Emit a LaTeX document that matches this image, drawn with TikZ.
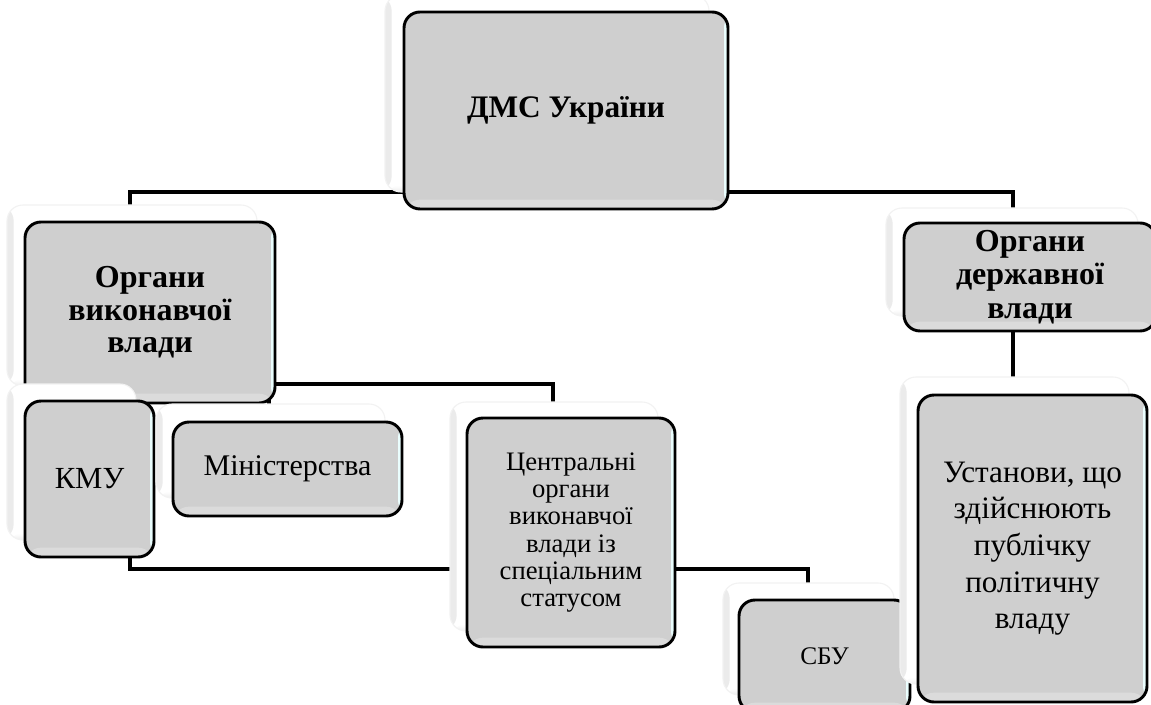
\documentclass[tikz,border=0pt]{standalone}
\usepackage{fontspec}
\setmainfont{Liberation Serif}
\usetikzlibrary{backgrounds}
\definecolor{boxgray}{HTML}{CFCFCF}
\tikzset{
  conn/.style={draw=black, line width=2.8pt},
  mainbox/.style={draw=black, line width=2.2pt, fill=boxgray, rounded corners=12pt,
    inner sep=0pt, align=center,
    path picture={
      \shade[left color=boxgray, right color=white!92!cyan]
        ([xshift=-3pt]path picture bounding box.north east) rectangle (path picture bounding box.south east);
      \fill[white, opacity=0.25] (path picture bounding box.south west) rectangle ([yshift=7pt]path picture bounding box.south east);
    }},
  ghostbox/.style={draw=black!5, line width=0.8pt, fill=white, rounded corners=12pt, inner sep=0pt,
    path picture={
      \shade[left color=black!8, right color=white]
        (path picture bounding box.south west) rectangle ([xshift=5pt]path picture bounding box.north west);
      \shade[bottom color=black!7, top color=white]
        (path picture bounding box.south west) rectangle ([yshift=5pt]path picture bounding box.south east);
    }}
}
\newcommand\diagbox[9]{%
  \node[ghostbox, minimum width=#4*0.75pt, minimum height=#5*0.75pt] (#1g) at (#2-#6,#3-#7) {};
  \node[mainbox, minimum width=#4*0.75pt, minimum height=#5*0.75pt, font=#8] (#1) at (#2,#3) {#9};
}
\begin{document}
\begin{tikzpicture}[x=0.75pt, y=-0.75pt]
\useasboundingbox (0,0) rectangle (1151,705);
\clip (0,0) rectangle (1151,705);

\diagbox{top}{566}{110.5}{324}{197}{19}{17}{\fontsize{23.5pt}{25pt}\selectfont\bfseries}{ДМС України}
\diagbox{exec}{150}{312.5}{250}{181}{18}{17}{\fontsize{24pt}{24.4pt}\selectfont\bfseries}{Органи\\виконавчої\\влади}
\diagbox{kmu}{89.5}{479}{129}{156}{18}{17}{\fontsize{23pt}{25pt}\selectfont}{КМУ}
\diagbox{min}{287.5}{469}{229}{94}{17}{18}{\fontsize{22.5pt}{24pt}\selectfont}{Міністерства}
\diagbox{cent}{571}{532.5}{208}{229}{17}{16}{\fontsize{20pt}{20.5pt}\selectfont}{Центральні\\органи\\виконавчої\\влади із\\спеціальним\\статусом}
\diagbox{sbu}{824.5}{656}{171}{112}{16}{17}{\fontsize{19pt}{21pt}\selectfont}{СБУ}
\diagbox{state}{1030}{277}{252}{108}{18}{15}{\fontsize{24pt}{25pt}\selectfont\bfseries}{Органи\\державної\\влади}
\diagbox{ust}{1032.5}{548.5}{229}{307}{18}{18}{\fontsize{23.4pt}{27.5pt}\selectfont}{Установи, що\\здійснюють\\публічку\\політичну\\владу}

\coordinate (hL) at (130,206);
\coordinate (hR) at (1013,206);
\coordinate (mTick) at (269,406);
\coordinate (cX) at (553,0);
\coordinate (kJ) at (130,569);
\coordinate (sJ) at (808,569);

\begin{pgfonlayer}{background}
  \fill[white] (0,0) rectangle (1151,705);
  \draw[conn] (exec.north -| hL) -- (hL) -- ++(0,-14) -| (hR) -- (state.north -| hR);
  \draw[conn] (state.south -| hR) -- (ust.north -| hR);
  \draw[conn] (mTick) -- ++(0,-22) -| (cent.north -| cX);
  \draw[conn] (kmu.south -| kJ) -- (kJ) -- (cent.west |- kJ);
  \draw[conn] (cent.east |- sJ) -- (sJ) -- (sbu.north -| sJ);
\end{pgfonlayer}
\end{tikzpicture}
\end{document}
